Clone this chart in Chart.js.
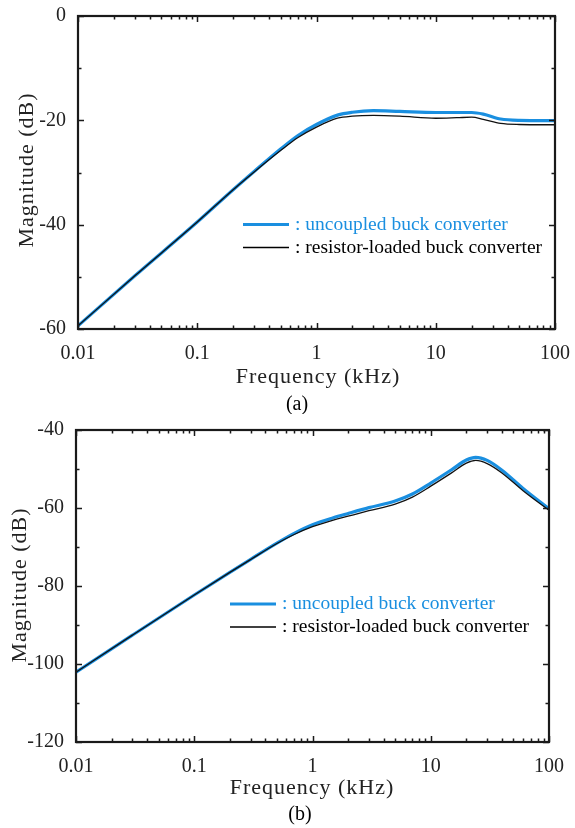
<!DOCTYPE html>
<html lang="en">
<head>
<meta charset="UTF-8">
<title>Magnitude plots</title>
<script src="https://cdn.jsdelivr.net/npm/chart.js"></script>
<style>
    html, body { margin: 0; padding: 0; background: #fff; }
    .wrap { position: relative; width: 575px; height: 828px; }
    canvas { position: absolute; left: 0; }
</style>
</head>
<body>
<div class="wrap">
    <canvas id="chartA" width="575" height="414" style="top:0"></canvas>
    <canvas id="chartB" width="575" height="414" style="top:414px"></canvas>
</div>
<script>
    // tick labels
    const xTicks = [0.01, 0.1, 1, 10, 100];
    const xTickLabels = ['0.01', '0.1', '1', '10', '100'];
    const yTicksA = [-60, -40, -20, 0];
    const yTicksB = [-120, -100, -80, -60, -40];

    const legendLabels = [': uncoupled buck converter', ': resistor-loaded buck converter'];

    // (a)
    const freqA  = [0.01, 0.03, 0.1, 0.2, 0.3, 0.5, 0.7, 1, 1.5, 2, 3, 5, 10, 15, 20, 25, 35, 50, 100];
    const blueA  = [-59.4, -49.8, -39.5, -33.3, -29.8, -25.5, -22.9, -20.8, -19.0, -18.45, -18.15, -18.3, -18.5, -18.5, -18.5, -18.8, -19.75, -20.0, -20.05];
    const blackA = [-59.4, -49.8, -39.5, -33.3, -29.9, -25.8, -23.3, -21.3, -19.6, -19.2, -19.05, -19.2, -19.6, -19.5, -19.4, -19.8, -20.6, -20.8, -20.85];

    // (b)
    const freqB  = [0.01, 0.03, 0.1, 0.2, 0.3, 0.5, 0.7, 1, 1.5, 2, 3, 5, 7, 10, 15, 20, 24, 30, 40, 60, 100];
    const blueB  = [-102.1, -92.6, -82.3, -76.5, -73.15, -69.0, -66.5, -64.3, -62.5, -61.4, -59.9, -58.2, -56.4, -53.6, -50.2, -47.7, -47.0, -47.8, -50.3, -54.9, -60.2];
    const blackB = [-102.1, -92.6, -82.3, -76.5, -73.2, -69.1, -66.8, -64.8, -63.1, -62.1, -60.7, -59.0, -57.2, -54.4, -51.0, -48.5, -47.8, -48.6, -51.0, -55.5, -60.6];

    const BLUE = 'rgb(26,143,224)';
    const SERIF = '"Liberation Serif", "DejaVu Serif", serif';

    function pts(xs, ys) {
        return xs.map((x, i) => ({ x: x, y: ys[i] }));
    }

    // frame, inward ticks, axis titles, legend, caption
    function decorPlugin(cfg) {
        return {
            id: 'decor',
            afterDraw(chart) {
                const c = chart.ctx;
                const a = chart.chartArea;
                const xs = chart.scales.x;
                const ys = chart.scales.y;
                c.save();
                c.strokeStyle = '#1a1a1a';
                c.lineWidth = 1.5;
                // x ticks, major + minor, top and bottom
                for (let d = -2; d <= 2; d++) {
                    for (let m = 1; m <= 9; m++) {
                        const v = m * Math.pow(10, d);
                        if (v > 100.0001) continue;
                        const px = Math.round(xs.getPixelForValue(v)) + 0.5;
                        const len = m === 1 ? 6 : 3.5;
                        c.beginPath();
                        c.moveTo(px, a.bottom); c.lineTo(px, a.bottom - len);
                        c.moveTo(px, a.top); c.lineTo(px, a.top + len);
                        c.stroke();
                    }
                }
                // y ticks every 10, major every 20
                for (let v = ys.min; v <= ys.max; v += 10) {
                    const py = Math.round(ys.getPixelForValue(v)) + 0.5;
                    const len = (v % 20 === 0) ? 6 : 3.5;
                    c.beginPath();
                    c.moveTo(a.left, py); c.lineTo(a.left + len, py);
                    c.moveTo(a.right, py); c.lineTo(a.right - len, py);
                    c.stroke();
                }
                // frame
                c.lineWidth = 2.2;
                c.strokeRect(a.left, a.top, a.right - a.left, a.bottom - a.top);

                // axis titles
                c.fillStyle = '#222';
                c.font = '22px ' + SERIF;
                c.letterSpacing = '1px';
                c.textAlign = 'center';
                c.textBaseline = 'middle';
                c.fillText('Frequency (kHz)', cfg.xTitle[0], cfg.xTitle[1]);
                c.save();
                c.translate(cfg.yTitle[0], cfg.yTitle[1]);
                c.rotate(-Math.PI / 2);
                c.fillText('Magnitude (dB)', 0, 0);
                c.restore();
                c.letterSpacing = '0px';
                c.font = '20px ' + SERIF;
                c.fillStyle = '#000';
                c.fillText(cfg.caption, cfg.capPos[0], cfg.capPos[1]);

                // legend
                const lg = cfg.legend;
                c.textAlign = 'left';
                c.font = '19.5px ' + SERIF;
                c.lineWidth = 3;
                c.strokeStyle = BLUE;
                c.beginPath(); c.moveTo(lg.x0, lg.y0); c.lineTo(lg.x1, lg.y0); c.stroke();
                c.fillStyle = BLUE;
                c.fillText(legendLabels[0], lg.tx, lg.y0);
                c.lineWidth = 1.3;
                c.strokeStyle = '#000';
                c.beginPath(); c.moveTo(lg.x0, lg.y0 + 23); c.lineTo(lg.x1, lg.y0 + 23); c.stroke();
                c.fillStyle = '#000';
                c.fillText(legendLabels[1], lg.tx, lg.y0 + 23);
                c.restore();
            }
        };
    }

    function makeChart(id, freq, blue, black, yMin, yMax, yTicks, pad, yWidth, xHeight, cfg) {
        return new Chart(document.getElementById(id), {
            type: 'line',
            data: {
                datasets: [
                    { label: 'uncoupled', data: pts(freq, blue), borderColor: BLUE, borderWidth: 3.2,
                      pointRadius: 0, cubicInterpolationMode: 'monotone', fill: false, order: 1 },
                    { label: 'resistor-loaded', data: pts(freq, black), borderColor: '#111', borderWidth: 1.3,
                      pointRadius: 0, cubicInterpolationMode: 'monotone', fill: false, order: 0 }
                ]
            },
            options: {
                responsive: false,
                animation: false,
                layout: { padding: pad },
                plugins: { legend: { display: false }, tooltip: { enabled: false } },
                scales: {
                    x: {
                        type: 'logarithmic', min: 0.01, max: 100,
                        grid: { display: false }, border: { display: false },
                        afterBuildTicks: s => { s.ticks = xTicks.map(v => ({ value: v })); },
                        afterFit: s => { s.height = xHeight; },
                        ticks: {
                            color: '#222', font: { family: SERIF, size: 20 }, padding: 5,
                            maxRotation: 0, autoSkip: false,
                            callback: (v) => xTickLabels[xTicks.indexOf(v)]
                        }
                    },
                    y: {
                        min: yMin, max: yMax,
                        grid: { display: false }, border: { display: false },
                        afterBuildTicks: s => { s.ticks = yTicks.map(v => ({ value: v })); },
                        afterFit: s => { s.width = yWidth; },
                        ticks: {
                            color: '#222', font: { family: SERIF, size: 20 }, padding: 4,
                            callback: (v) => String(v)
                        }
                    }
                }
            },
            plugins: [decorPlugin(cfg)]
        });
    }

    makeChart('chartA', freqA, blueA, blackA, -60, 0, yTicksA,
        { top: 14, right: 17, left: 0, bottom: 0 }, 78, 85,
        { xTitle: [318, 377], yTitle: [27, 170], caption: '(a)', capPos: [297, 405],
          legend: { x0: 243, x1: 289, y0: 224.5, tx: 295 } });

    makeChart('chartB', freqB, blueB, blackB, -120, -40, yTicksB,
        { top: 13, right: 26, left: 0, bottom: 0 }, 76, 86,
        { xTitle: [312, 374], yTitle: [20, 171], caption: '(b)', capPos: [300, 401],
          legend: { x0: 230, x1: 276, y0: 190, tx: 282 } });
</script>
</body>
</html>
